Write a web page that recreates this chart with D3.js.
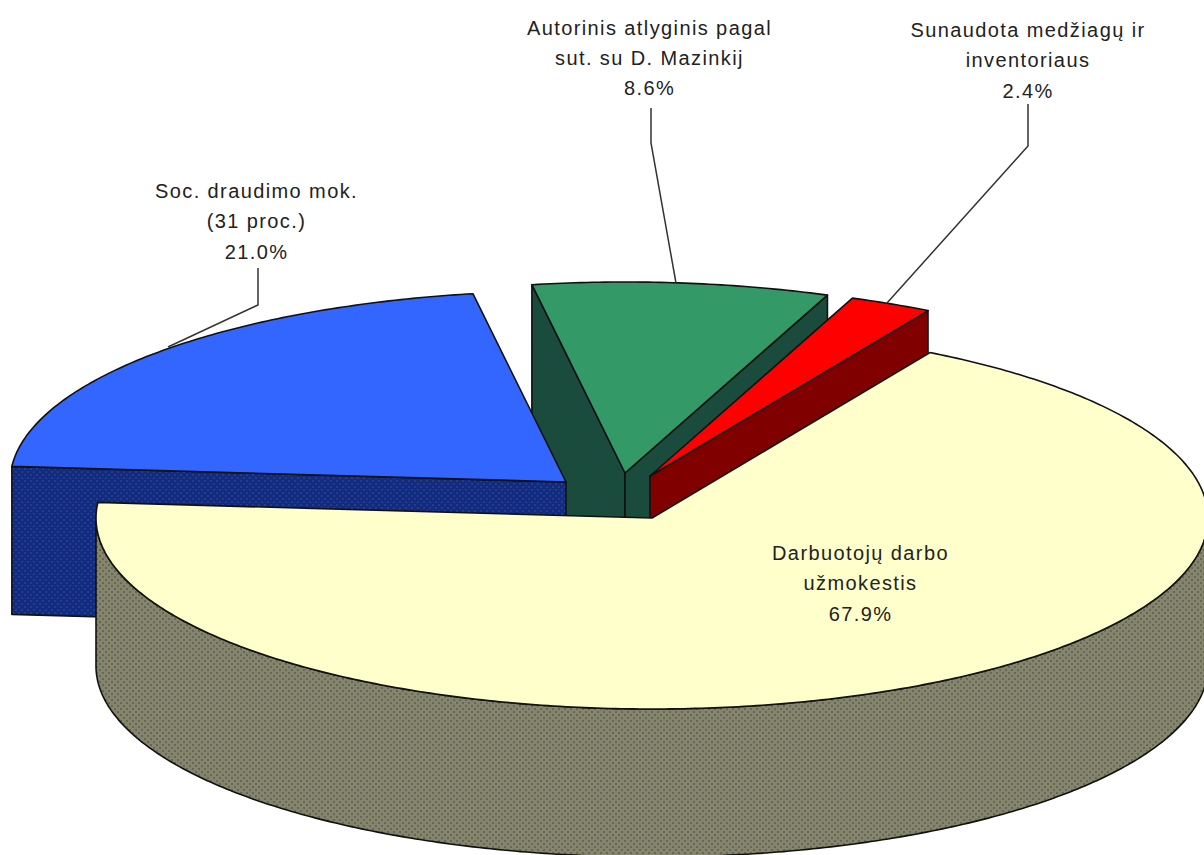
<!DOCTYPE html>
<html><head><meta charset="utf-8">
<script src="https://d3js.org/d3.v7.min.js"></script>
<style>html,body{margin:0;padding:0;background:#fff;overflow:hidden}svg{display:block}
text{font-family:"Liberation Sans",Arial,sans-serif;font-size:20px;fill:#222;text-anchor:middle}</style>
</head><body><svg id="c" width="1204" height="855"></svg>
<script>
// data
const categories = ["Darbuotojų darbo užmokestis","Soc. draudimo mok. (31 proc.)","Autorinis atlyginis pagal sut. su D. Mazinkij","Sunaudota medžiagų ir inventoriaus"];
const values = [67.9,21.0,8.6,2.4];
const labelLines = [["Darbuotojų darbo","užmokestis"],["Soc. draudimo mok.","(31 proc.)"],["Autorinis atlyginis pagal","sut. su D. Mazinkij"],["Sunaudota medžiagų ir","inventoriaus"]];
// styling / layout
const topColors = ["#ffffcc","#3366ff","#339966","#ff0000"];
const wallBase = ["#85856b","#0f2c80","#154f38","#800000"];
const wallDot = ["#66665a","#2a3a86","#2b3f4e","#800000"];
const apexX = [652,566,625,650], apexY = [518,482,473,476];
const labelX = [860.5,256.5,649.5,1028], labelY = [560,198,34.5,37], lineGap = 30.4;
const leaders = [null,[[258,268],[258,305],[168,347]],[[651,108],[651,143],[676,283]],[[1028,104],[1028,146],[887,303]]];
const RX = 556, RY = 191, DEPTH = 148, START = 30*Math.PI/180;

const svg = d3.select("#c");
const defs = svg.append("defs");
wallBase.forEach((b,i)=>{
  const p = defs.append("pattern").attr("id","w"+i).attr("width",6).attr("height",6).attr("patternUnits","userSpaceOnUse");
  p.append("rect").attr("width",6).attr("height",6).attr("fill",b);
  [[0,0],[3,3]].forEach(d=>p.append("rect").attr("x",d[0]).attr("y",d[1]).attr("width",2).attr("height",2).attr("fill",wallDot[i]));
});

const arcs = d3.pie().sort(null).value(d=>d).startAngle(START).endAngle(START+2*Math.PI)(values);
const sx = d3.scaleLinear().domain([-1,1]).range([-RX,RX]);
const sy = d3.scaleLinear().domain([-1,1]).range([-RY,RY]);
const rim = (i,a,dz=0)=>[apexX[i]+sx(Math.sin(a)), apexY[i]+sy(-Math.cos(a))+dz];
const rimPts = (i,a0,a1,dz=0)=>{const n=Math.max(2,Math.ceil(Math.abs(a1-a0)*90));
  return d3.range(n+1).map(k=>rim(i,a0+(a1-a0)*k/n,dz));};
const line = d3.line();
const draw = (pts,fill)=>svg.append("path").attr("d",line(pts)+"Z").attr("fill",fill)
   .attr("stroke","#111").attr("stroke-width",1.6).attr("stroke-linejoin","round");

function wallRadial(i,a,depth=DEPTH){ const ap=[apexX[i],apexY[i]], r=rim(i,a), r2=rim(i,a,depth);
  draw([ap,r,r2,[ap[0],ap[1]+depth]],`url(#w${i})`); }
function topFace(i){ const d=arcs[i];
  draw([[apexX[i],apexY[i]],...rimPts(i,d.startAngle,d.endAngle)],topColors[i]); }

// back to front: green, red, blue, yellow
wallRadial(2,arcs[2].startAngle,DEPTH+30); wallRadial(2,arcs[2].endAngle); topFace(2);
wallRadial(3,arcs[3].endAngle); topFace(3);
wallRadial(1,arcs[1].startAngle); topFace(1);
// yellow outer wall
const a0=Math.PI/2, a1=1.5*Math.PI;
draw([...rimPts(0,a0,a1),...rimPts(0,a1,a0,DEPTH)],"url(#w0)");
topFace(0);

// leaders
leaders.forEach(l=>{ if(l) svg.append("path").attr("d",line(l)).attr("fill","none").attr("stroke","#333").attr("stroke-width",1.5); });
// labels
labelLines.forEach((ls,i)=>{
  [...ls, values[i].toFixed(1)+"%"].forEach((t,k)=>
    svg.append("text").attr("x",labelX[i]).attr("y",labelY[i]+k*lineGap).attr("letter-spacing","1.4px").text(t));
});
</script></body></html>
